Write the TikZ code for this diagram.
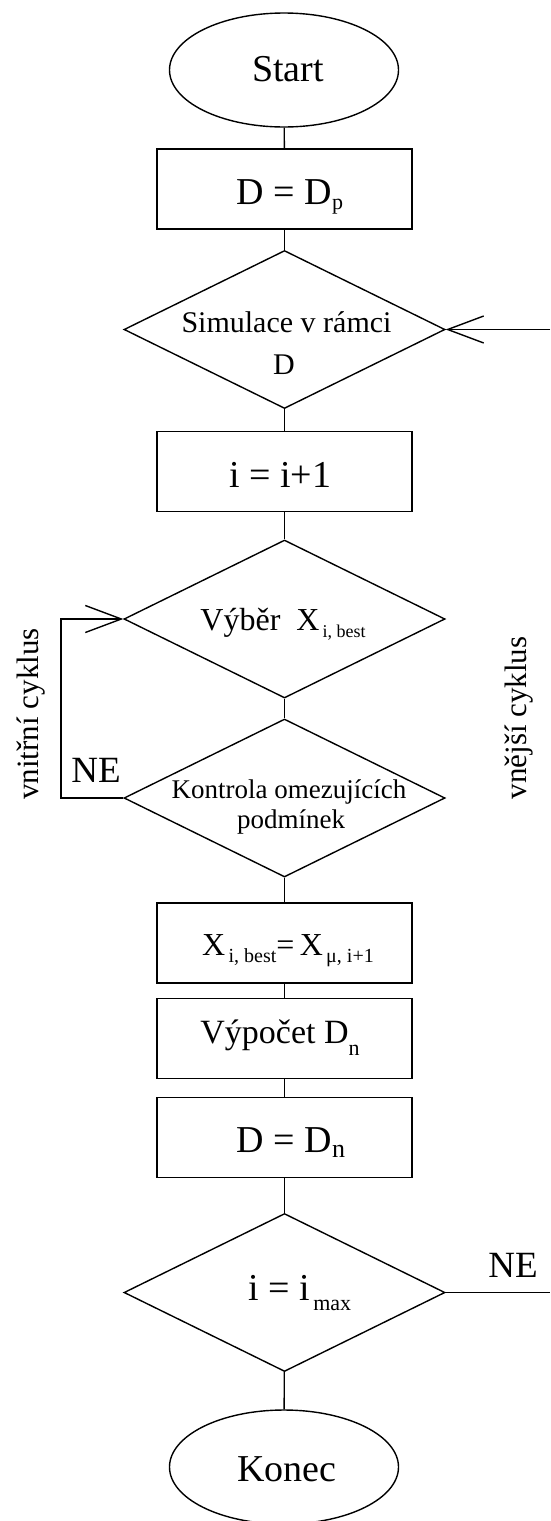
\documentclass[tikz,border=0pt]{standalone}
\usepackage{fontspec}
\setmainfont{Liberation Serif}
\usetikzlibrary{shapes.geometric,arrows.meta}
% lowered small text used for subscripts: size, drop, text
\newcommand{\lowsub}[3]{\raisebox{-#2pt}{\fontsize{#1}{#1}\selectfont #3}}
\begin{document}
\begin{tikzpicture}[x=1pt,y=-1pt,
  line width=1.4pt,
  terminal/.style={draw, ellipse, minimum width=229pt, minimum height=114pt, inner sep=0pt},
  stepbox/.style={draw, rectangle, minimum width=255pt, minimum height=80pt, inner sep=0pt},
  decision/.style={draw, diamond, minimum width=321pt, minimum height=158pt, inner sep=0pt},
  txt/.style={anchor=base, inner sep=0pt, font=\fontsize{#1}{#1}\selectfont},
  sidetxt/.style={rotate=90, inner sep=0pt, font=\fontsize{31}{31}\selectfont},
  loopback/.style={-{Straight Barb[length=36pt,width=27pt]}}
]
\path[use as bounding box] (0,0) rectangle (550,1521);

% shapes of the flow
\node[terminal] (start) at (284,70) {};
\node[stepbox]  (dp)    at (284.5,189) {};
\node[decision] (sim)   at (284.5,329.5) {};
\node[stepbox]  (inc)   at (284.5,471.5) {};
\node[decision] (vyb)   at (284.5,619) {};
\node[decision] (kon)   at (284.5,798) {};
\node[stepbox]  (xb)    at (284.5,943) {};
\node[stepbox]  (vyp)   at (284.5,1038.5) {};
\node[stepbox]  (dn)    at (284.5,1137.5) {};
\node[decision] (imax)  at (284.5,1292.5) {};
\node[terminal] (konec) at (284,1467) {};

% texts
\node[txt=38] (startT) at (288,81) {Start};
\node[txt=38] (dpT) at (290,204) {D = D\lowsub{22}{5}{p}};
\node[txt=30] (simA) at (286.5,332) {Simulace v rámci};
\node[txt=30] (simB) at (284,374) {D};
\node[txt=38] (incT) at (280,487) {i = i+1};
\node[txt=32] (vybT) at (283,630) {Výběr\hspace{0.5em}X\lowsub{18}{7}{\,i, best}};
\node[txt=27] (konA) at (289,798) {Kontrola omezujících};
\node[txt=27] (konB) at (291,828) {podmínek};
\node[txt=32] (xbT) at (288,955) {X\lowsub{20}{7}{\,i, best}=\,X\lowsub{20}{7}{\,μ, i+1}};
\node[txt=34] (vypT) at (280,1043) {Výpočet D\lowsub{22}{12}{n}};
\node[txt=38] (dnT) at (291,1152) {D = D\lowsub{26}{5}{n}};
\node[txt=38] (imaxT) at (300,1300) {i = i\hspace{3pt}\lowsub{22}{10}{max}};
\node[txt=38] (konecT) at (287,1481) {Konec};
\node[txt=37] (neIn) at (96,782) {NE};
\node[txt=37] (neOut) at (513,1277) {NE};
\node[sidetxt] (inner) at (31,714) {vnitřní cyklus};
\node[sidetxt] (outer) at (519,718) {vnější cyklus};

% main flow
\draw (start) -- (dp);
\draw (dp) -- (sim);
\draw (sim) -- (inc);
\draw (inc) -- (vyb);
\draw (vyb) -- (kon);
\draw (kon) -- (xb);
\draw (xb) -- (vyp);
\draw (vyp) -- (dn);
\draw (dn) -- (imax);
\draw (imax) -- (konec);

% inner loop
\coordinate (innerX) at (61,0);
\draw[loopback] (kon.west) -- (kon.west -| innerX) -- (vyb.west -| innerX) -- (vyb.west);

% outer loop, running along the right edge
\coordinate (edgeX) at (550,0);
\draw (imax.east) -- (imax.east -| edgeX);
\draw[loopback] (sim.east -| edgeX) -- (sim.east);
\end{tikzpicture}
\end{document}
